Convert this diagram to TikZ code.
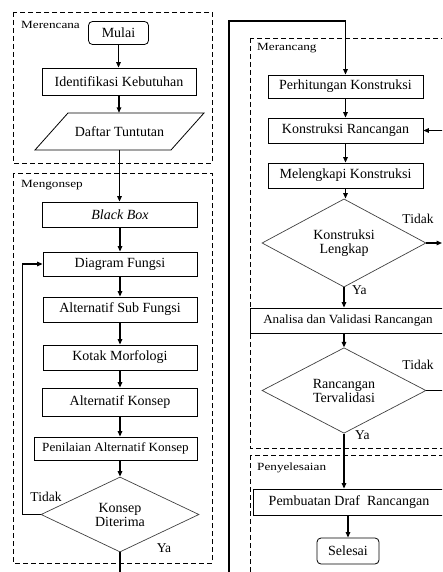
\documentclass[tikz,border=0pt]{standalone}
\usepackage{fontspec}
\setmainfont{Liberation Serif}
\newfontfamily\lblfont{Liberation Serif}[FakeStretch=1.2]
\newfontfamily\widefont{Liberation Serif}[FakeStretch=1.05]
\usetikzlibrary{shapes.geometric,arrows.meta}
\begin{document}
\begin{tikzpicture}[x=1pt,y=-1pt,
  every node/.style={font=\fontsize{14}{14}\selectfont},
  box/.style={draw, line width=0.8pt, inner sep=0pt, minimum height=25pt},
  term/.style={box, rounded corners=4pt},
  dec/.style={diamond, draw=black!75, line width=0.7pt, inner sep=0pt, align=center},
  flow/.style={line width=1.3pt, -{Triangle[length=5.5pt,width=4.5pt]}},
  loopline/.style={line width=1.7pt, -{Triangle[length=5.5pt,width=4.5pt]}},
  zone/.style={draw, line width=0.8pt, dash pattern=on 5pt off 3pt},
  zlabel/.style={anchor=west, inner sep=0pt, font=\lblfont\fontsize{11}{11}\selectfont},
  yn/.style={inner sep=0pt, font=\fontsize{13.5}{13.5}\selectfont}
]
\useasboundingbox (0,0) rectangle (442,572);
\clip (0,0) rectangle (442,572);

% zones
\draw[zone] (13,12) rectangle (212,163);
\node[zlabel] (lz1) at (21,25) {Merencana};
\draw[zone] (13,173) rectangle (212,563);
\node[zlabel] (lz2) at (21,185) {Mengonsep};
\draw[zone] (250,38) rectangle (470,448);
\node[zlabel] (lz3) at (257,48) {Merancang};
\draw[zone] (250,455) rectangle (470,600);
\node[zlabel] (lz4) at (257,468) {Penyelesaian};

% left column
\node[term, minimum width=60pt, minimum height=23pt] (mulai) at (118.5,33) {Mulai};
\node[box, minimum width=154pt, minimum height=27pt] (ident) at (119,81.5) {Identifikasi Kebutuhan};
\draw[line width=0.8pt] (68,113) -- (204,113) -- (171,150) -- (35,150) -- cycle;
\node[minimum height=37pt, inner sep=0pt] (daftar) at (119.5,131.5) {Daftar Tuntutan};
\node[box, minimum width=155pt] (bb) at (120,214.5) {\itshape Black Box};
\node[box, minimum width=154pt, minimum height=24pt] (df) at (120,264) {Diagram Fungsi};
\node[box, minimum width=154pt] (asf) at (120,309.5) {Alternatif Sub Fungsi};
\node[box, minimum width=154pt] (km) at (120,357.5) {Kotak Morfologi};
\node[box, minimum width=155pt, minimum height=28pt] (ak) at (120,402) {Alternatif Konsep};
\node[box, minimum width=163pt, minimum height=23pt, font=\widefont\fontsize{12.5}{12.5}\selectfont] (pak) at (115.5,448.5) {Penilaian Alternatif Konsep};
\node[dec, minimum width=158pt, minimum height=75pt] (kd) at (120,514.5) {Konsep\\Diterima};

\draw[flow] (mulai.south) -- (mulai.south |- ident.north);
\draw[flow] (ident.south) -- (ident.south |- daftar.north);
\draw[flow] (daftar.south) -- (daftar.south |- bb.north);
\draw[flow] (bb.south) -- (df.north);
\draw[flow] (df.south) -- (asf.north);
\draw[flow] (asf.south) -- (km.north);
\draw[flow] (km.south) -- (ak.north);
\draw[flow] (ak.south) -- (ak.south |- pak.north);
\draw[flow] (ak.south |- pak.south) -- (kd.north);
\draw[flow] (kd.west) -- ++(-18,0) |- (df.west);
\node[yn] (t1) at (46,497) {Tidak};
\node[yn] (y1) at (164,548) {Ya};

% right column
\node[box, minimum width=155pt, minimum height=23pt] (perh) at (345.5,86.5) {Perhitungan Konstruksi};
\node[box, minimum width=155pt] (kr) at (345.5,130.5) {Konstruksi Rancangan};
\node[box, minimum width=155pt] (mk) at (345.5,175.5) {Melengkapi Konstruksi};
\node[dec, minimum width=164pt, minimum height=74pt] (kl) at (344,243) {Konstruksi\\Lengkap};
\node[box, minimum width=196pt, font=\widefont\fontsize{12.5}{12.5}\selectfont] (av) at (348,320.5) {Analisa dan Validasi Rancangan};
\node[dec, minimum width=164pt, minimum height=73pt] (rv) at (344,390.5) {Rancangan\\Tervalidasi};
\node[box, minimum width=192pt, minimum height=26pt] (pd) at (349,502) {Pembuatan Draf\ \ Rancangan};
\node[term, minimum width=62pt, minimum height=26pt] (sel) at (348,551) {Selesai};

% big loop from left column to right column
\coordinate (lb) at (120,600);
\coordinate (rb) at (229,600);
\coordinate (rt) at (229,21);
\draw[loopline] (kd.south) -- (lb) -- (rb) -- (rt) -| (perh.north);

\draw[flow] (perh.south) -- (perh.south |- kr.north);
\draw[flow] (kr.south) -- (kr.south |- mk.north);
\draw[flow] (mk.south) -- (mk.south |- kl.north);
\coordinate (tr) at (442,243);
\draw[flow] (kl.east) -- (tr);
\node[yn] (t2) at (418,219) {Tidak};
\draw[flow] (kl.south) -- (kl.south |- av.north);
\node[yn, anchor=west] (y2) at (352,290) {Ya};
\draw[flow] (kl.south |- av.south) -- (rv.north);
\coordinate (rr) at (470,390.5);
\draw[flow] (rv.east) -- (rr) |- (kr.east);
\node[yn] (t3) at (418,365) {Tidak};
\draw[flow] (rv.south) -- (rv.south |- pd.north);
\node[yn, anchor=west] (y3) at (355,435) {Ya};
\draw[flow] (sel.north |- pd.south) -- (sel.north);
\end{tikzpicture}
\end{document}
